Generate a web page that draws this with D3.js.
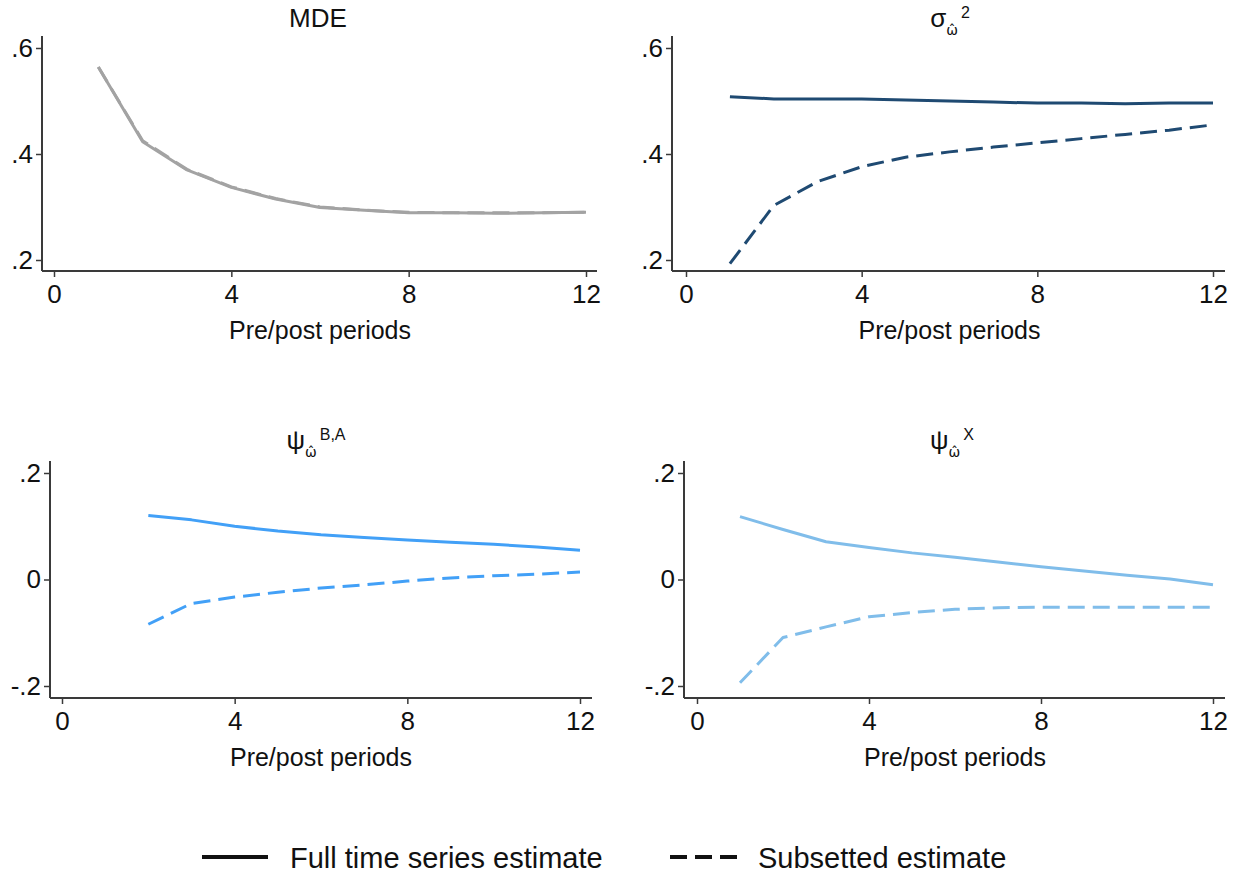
<!DOCTYPE html>
<html>
<head>
<meta charset="utf-8">
<script src="https://cdn.jsdelivr.net/npm/d3@7"></script>
<style>
  html, body { margin: 0; padding: 0; background: #fff; }
  svg { display: block; font-family: "Liberation Sans", Arial, Helvetica, sans-serif; }
</style>
</head>
<body>
<svg id="chart" width="1241" height="876"></svg>
<script>
// Pre/post periods on the x axis
const periods = [1, 2, 3, 4, 5, 6, 7, 8, 9, 10, 11, 12];
const xTicks = [0, 4, 8, 12];

// MDE (full and subsetted estimates nearly coincide)
const mdeFull   = [0.564, 0.423, 0.370, 0.337, 0.315, 0.299, 0.294, 0.289, 0.289, 0.288, 0.289, 0.290];
const mdeSubset = [0.564, 0.425, 0.371, 0.338, 0.316, 0.300, 0.294, 0.290, 0.289, 0.289, 0.289, 0.290];

// sigma^2 of omega-hat
const sigmaFull   = [0.508, 0.504, 0.504, 0.504, 0.502, 0.500, 0.498, 0.496, 0.496, 0.495, 0.496, 0.496];
const sigmaSubset = [0.193, 0.303, 0.348, 0.376, 0.394, 0.404, 0.413, 0.421, 0.429, 0.437, 0.445, 0.455];

// psi^{B,A} of omega-hat (starts at period 2)
const psiBAPeriods = [2, 3, 4, 5, 6, 7, 8, 9, 10, 11, 12];
const psiBAFull   = [0.120, 0.112, 0.100, 0.091, 0.084, 0.079, 0.074, 0.070, 0.066, 0.061, 0.055];
const psiBASubset = [-0.084, -0.045, -0.033, -0.024, -0.016, -0.010, -0.003, 0.003, 0.007, 0.010, 0.014];

// psi^X of omega-hat
const psiXFull   = [0.118, 0.094, 0.071, 0.060, 0.050, 0.042, 0.033, 0.024, 0.016, 0.008, 0.001, -0.010];
const psiXSubset = [-0.194, -0.109, -0.089, -0.070, -0.062, -0.056, -0.053, -0.052, -0.052, -0.052, -0.052, -0.052];

const yTicksTop = [0.2, 0.4, 0.6];
const yTicksBottom = [-0.2, 0, 0.2];

const legendLabels = ["Full time series estimate", "Subsetted estimate"];

// ".6", "0", "-.2" style labels
const fmt = v => {
  if (Math.abs(v) < 1e-9) return "0";
  const s = Math.abs(v).toFixed(1).replace(/^0/, "");
  return (v < 0 ? "-" : "") + s;
};

const svg = d3.select("#chart");
const AXIS = "#3a3a3a";
const DASH = "17,8";
const TICK_FONT = 26;

// Panel frames in pixels
const panels = [
  {
    title: [{t: "MDE"}],
    px: [54, 586], py: [48, 260], yd: [0.6, 0.2], axisL: 42, axisR: 597, axisT: 36, axisB: 271,
    yTicks: yTicksTop, titleX: 318, titleY: 27,
    series: [
      {x: periods, y: mdeFull, color: "#a3a3a3", dash: null},
      {x: periods, y: mdeSubset, color: "#a3a3a3", dash: DASH}
    ]
  },
  {
    title: [{t: "σ"}, {t: "ω̂", sub: true}, {t: "2", sup: true}],
    px: [686, 1213], py: [48, 260], yd: [0.6, 0.2], axisL: 672, axisR: 1225, axisT: 36, axisB: 271,
    yTicks: yTicksTop, titleX: 950, titleY: 27,
    series: [
      {x: periods, y: sigmaFull, color: "#1f4a72", dash: null},
      {x: periods, y: sigmaSubset, color: "#1f4a72", dash: DASH}
    ]
  },
  {
    title: [{t: "ψ"}, {t: "ω̂", sub: true}, {t: "B,A", sup: true}],
    px: [62, 580], py: [473, 686], yd: [0.2, -0.2], axisL: 50, axisR: 592, axisT: 461, axisB: 698,
    yTicks: yTicksBottom, titleX: 316, titleY: 449,
    series: [
      {x: psiBAPeriods, y: psiBAFull, color: "#42a0f7", dash: null},
      {x: psiBAPeriods, y: psiBASubset, color: "#42a0f7", dash: DASH}
    ]
  },
  {
    title: [{t: "ψ"}, {t: "ω̂", sub: true}, {t: "X", sup: true}],
    px: [697, 1213], py: [473, 686], yd: [0.2, -0.2], axisL: 684, axisR: 1225, axisT: 461, axisB: 698,
    yTicks: yTicksBottom, titleX: 952, titleY: 449,
    series: [
      {x: periods, y: psiXFull, color: "#80bdea", dash: null},
      {x: periods, y: psiXSubset, color: "#80bdea", dash: DASH}
    ]
  }
];

panels.forEach(p => {
  const x = d3.scaleLinear().domain([0, 12]).range(p.px);
  const y = d3.scaleLinear().domain(p.yd).range(p.py);
  const g = svg.append("g");

  // y axis
  const ya = g.append("g")
    .attr("transform", `translate(${p.axisL},0)`)
    .call(d3.axisLeft(y).tickValues(p.yTicks).tickFormat(fmt).tickSize(6).tickPadding(3));
  ya.select(".domain").remove();
  ya.selectAll(".tick line").attr("stroke", AXIS).attr("stroke-width", 1.5);
  ya.selectAll(".tick text").attr("font-size", TICK_FONT).attr("fill", "#111")
    .attr("font-family", "'Liberation Sans', Arial, sans-serif");
  g.append("line").attr("x1", p.axisL).attr("x2", p.axisL)
    .attr("y1", p.axisT).attr("y2", p.axisB)
    .attr("stroke", AXIS).attr("stroke-width", 2);

  // x axis
  const xa = g.append("g")
    .attr("transform", `translate(0,${p.axisB})`)
    .call(d3.axisBottom(x).tickValues(xTicks).tickFormat(d3.format("d")).tickSize(6).tickPadding(8));
  xa.select(".domain").remove();
  xa.selectAll(".tick line").attr("stroke", AXIS).attr("stroke-width", 1.5);
  xa.selectAll(".tick text").attr("font-size", TICK_FONT).attr("fill", "#111")
    .attr("font-family", "'Liberation Sans', Arial, sans-serif");
  g.append("line").attr("x1", p.axisL).attr("x2", p.axisR)
    .attr("y1", p.axisB).attr("y2", p.axisB)
    .attr("stroke", AXIS).attr("stroke-width", 2);

  // x axis title
  g.append("text")
    .attr("x", (x(4) + x(8)) / 2).attr("y", p.axisB + 68)
    .attr("text-anchor", "middle").attr("font-size", 25).attr("fill", "#111")
    .text("Pre/post periods");

  // panel title with sub/superscripts
  const tt = g.append("text")
    .attr("x", p.titleX).attr("y", p.titleY)
    .attr("text-anchor", "middle").attr("font-size", 26).attr("fill", "#111");
  p.title.forEach(part => {
    const ts = tt.append("tspan").text(part.t);
    if (part.sub) ts.attr("font-size", 14).attr("dy", 8).attr("font-family", "'DejaVu Sans', sans-serif");
    if (part.sup) ts.attr("font-size", 16).attr("dy", -17).attr("dx", 3);
  });

  // series lines
  p.series.forEach(s => {
    const line = d3.line().x((d, i) => x(s.x[i])).y(d => y(d));
    g.append("path")
      .datum(s.y)
      .attr("d", line)
      .attr("fill", "none")
      .attr("stroke", s.color)
      .attr("stroke-width", 3)
      .attr("stroke-linejoin", "round")
      .attr("stroke-dasharray", s.dash);
  });
});

// legend
const legend = svg.append("g");
const legendItems = [
  {label: legendLabels[0], x1: 202, x2: 268, tx: 290, dash: null},
  {label: legendLabels[1], x1: 670, x2: 740, tx: 758, dash: DASH}
];
legendItems.forEach(it => {
  legend.append("line")
    .attr("x1", it.x1).attr("x2", it.x2).attr("y1", 857).attr("y2", 857)
    .attr("stroke", "#111").attr("stroke-width", 4)
    .attr("stroke-dasharray", it.dash);
  legend.append("text")
    .attr("x", it.tx).attr("y", 868)
    .attr("font-size", 29).attr("fill", "#111")
    .text(it.label);
});
</script>
</body>
</html>
